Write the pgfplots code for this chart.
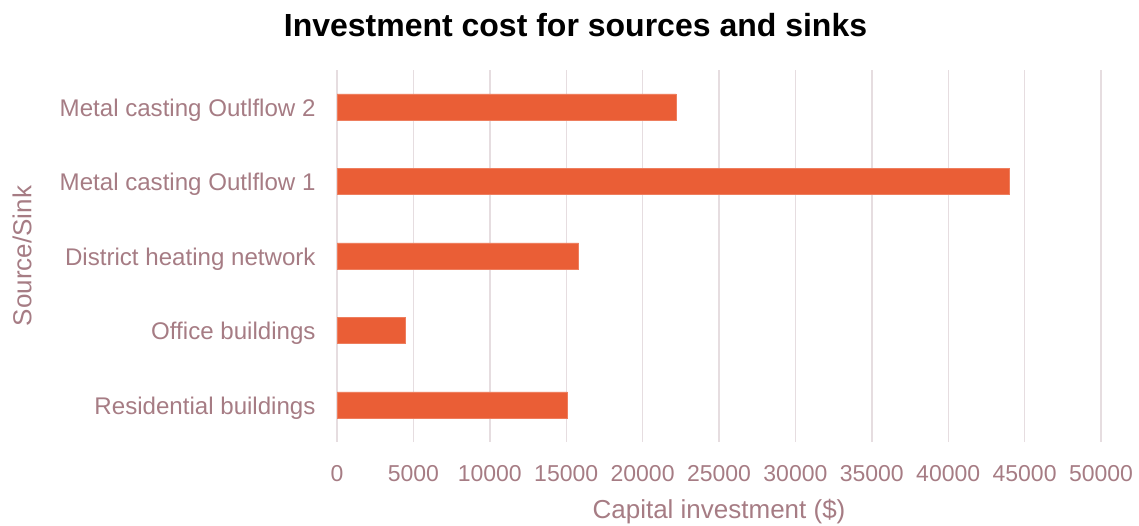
\documentclass[border=0pt]{standalone}
\usepackage{fontspec}
\setmainfont{Liberation Sans}
\usepackage{pgfplots}
\pgfplotsset{compat=1.18}
\definecolor{barc}{RGB}{234,94,54}
\definecolor{txtc}{RGB}{166,124,132}
\definecolor{gridc}{RGB}{230,221,224}
\begin{document}
\begin{tikzpicture}
\begin{axis}[
  at={(337pt,83.75pt)}, anchor=south west,
  scale only axis, width=764pt, height=372.5pt,
  xbar, bar width=26.3pt,
  xmin=0, xmax=50000, ymin=-0.5, ymax=4.5,
  xtick={0,5000,...,50000},
  ytick={0,1,2,3,4},
  yticklabels={Residential buildings, Office buildings, District heating network, Metal casting Outlflow 1, Metal casting Outlflow 2},
  scaled x ticks=false,
  /pgf/number format/assume math mode=true,
  /pgf/number format/1000 sep={},
  xmajorgrids, major grid style={draw=gridc, line width=1.4pt},
  axis line style={draw=none},
  major tick style={draw=none},
  tick label style={text=txtc, inner sep=0pt},
  xticklabel style={anchor=north, yshift=-23pt, font=\fontsize{23}{27}\selectfont},
  yticklabel style={anchor=east, xshift=-17pt, yshift=-3pt, font=\fontsize{24.1}{28}\selectfont},
  xlabel={Capital investment (\$)},
  ylabel={Source/Sink},
  label style={text=txtc, font=\fontsize{26}{30}\selectfont, inner sep=0pt},
  xlabel style={at={(axis description cs:0.5,0)}, anchor=north, yshift=-57pt},
  ylabel style={at={(axis description cs:-0.4123,0.5)}, anchor=center},
]
\addplot[fill=barc, draw=barc!80!white, line width=0.6pt] coordinates {
  (15080,0) (4470,1) (15820,2) (44010,3) (22200,4)
};
\end{axis}
\node[anchor=base, font=\fontsize{32}{38}\selectfont\bfseries, inner sep=0pt] at (575.5pt,489pt) {Investment cost for sources and sinks};
\pgfresetboundingbox
\path (0,0) rectangle (1139pt,526pt);
\end{tikzpicture}
\end{document}
